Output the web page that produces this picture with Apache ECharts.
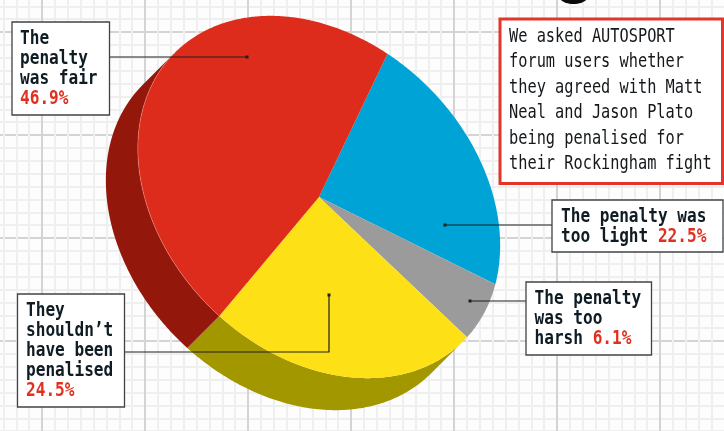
<!DOCTYPE html>
<html>
<head>
<meta charset="utf-8">
<style>html,body{margin:0;padding:0;background:#fff}#chart{width:724px;height:431px}</style>
<script src="https://cdn.jsdelivr.net/npm/echarts@6/dist/echarts.min.js"></script>
</head>
<body>
<div id="chart"></div>
<script>
// Poll results, clockwise from the red/blue boundary
const categories = [
  'The penalty was\ntoo light',
  'The penalty\nwas too\nharsh',
  'They\nshouldn\u2019t\nhave been\npenalised',
  'The\npenalty\nwas fair'
];
const shares = [22.5, 6.1, 24.5, 46.9];
const percentSeparators = [' ', ' ', '\n', '\n'];
const introLines = [
  'We asked AUTOSPORT',
  'forum users whether',
  'they agreed with Matt',
  'Neal and Jason Plato',
  'being penalised for',
  'their Rockingham fight'
];

const topColors = ['#00a3d5', '#9b9b9b', '#fde116', '#de2c1c'];
const sideColors = [null, null, '#a39700', '#93170a'];

// Tilted disc: ellipse semi-axes, axis rotation, centre and extrusion
const disc = { cx: 319, cy: 197, a: 204, b: 155, tilt: 45, startAngle: -105, dx: -32, dy: 32 };
const rad = Math.PI / 180;

function rimPoint(t, ox, oy) {
  const u = disc.a * Math.cos(t * rad), v = disc.b * Math.sin(t * rad);
  const c = Math.cos(disc.tilt * rad), s = Math.sin(disc.tilt * rad);
  return [disc.cx + u * c - v * s + (ox || 0), disc.cy + u * s + v * c + (oy || 0)];
}
function arc(from, to, ox, oy) {
  const pts = [], step = 0.5 * Math.sign(to - from);
  for (let t = from; (to - t) * step > 0; t += step) pts.push(rimPoint(t, ox, oy));
  pts.push(rimPoint(to, ox, oy));
  return pts;
}

function renderSlice(params, api) {
  const i = params.dataIndex;
  const before = shares.slice(0, i).reduce((p, q) => p + q, 0);
  const from = disc.startAngle + before * 3.6;
  const to = from + api.value(0) * 3.6;
  const children = [];
  const sideFrom = Math.max(from, 0), sideTo = Math.min(to, 180);
  if (sideColors[i] && sideTo > sideFrom) {
    children.push({
      type: 'polygon',
      shape: { points: arc(sideFrom, sideTo).concat(arc(sideTo, sideFrom, disc.dx, disc.dy)) },
      style: { fill: sideColors[i] }
    });
  }
  children.push({
    type: 'polygon',
    shape: { points: [[disc.cx, disc.cy]].concat(arc(from, to)) },
    style: { fill: topColors[i] }
  });
  if (i === 3) {
    children.push({
      type: 'polyline',
      shape: { points: arc(sideFrom, sideTo) },
      style: { stroke: 'rgba(255,190,170,0.35)', lineWidth: 1, fill: null }
    });
  }
  return { type: 'group', children };
}

// Callout boxes; lead is the leader polyline from box edge to its dot
const stretch = 1.25;
const calloutLayout = [
  { box: [552, 200, 171, 52], text: [561, 207], lead: [[552, 225], [445, 225]] },
  { box: [526, 282, 125.5, 73], text: [534.5, 289], lead: [[526, 301], [470, 301]] },
  { box: [17.5, 294, 107, 113], text: [26, 301], lead: [[125, 352], [329, 352], [329, 295]] },
  { box: [12, 22, 97.5, 93], text: [20, 29], lead: [[110, 57], [247, 57]] }
];

function calloutGraphics() {
  const out = [];
  categories.forEach((name, i) => {
    const L = calloutLayout[i];
    const body = name.split('\n');
    const pct = shares[i].toFixed(1) + '%';
    const rows = body.map(r => '{t|' + r + '}');
    const richText = percentSeparators[i] === ' '
      ? rows.slice(0, -1).concat(rows[rows.length - 1] + '{t| }{p|' + pct + '}')
      : rows.concat('{p|' + pct + '}');
    const end = L.lead[L.lead.length - 1];
    out.push({
      type: 'polyline', z: 20,
      shape: { points: L.lead },
      style: { stroke: '#1e1e1e', lineWidth: 1.2, fill: null }
    }, {
      type: 'rect', z: 20,
      shape: { x: end[0] - 1.5, y: end[1] - 1.5, width: 3, height: 3 },
      style: { fill: '#1e1e1e' }
    }, {
      type: 'rect', z: 21,
      shape: { x: L.box[0], y: L.box[1], width: L.box[2], height: L.box[3] },
      style: { fill: '#fff', stroke: '#404346', lineWidth: 1.3 }
    }, {
      type: 'text', z: 22,
      x: L.text[0], y: L.text[1], scaleY: stretch,
      style: {
        text: richText.join('\n'),
        rich: {
          t: { font: 'bold 16.1px "DejaVu Sans Mono"', fill: '#0f1c24', lineHeight: 20 / stretch },
          p: { font: 'bold 16.1px "DejaVu Sans Mono"', fill: '#e1301f', lineHeight: 20 / stretch }
        }
      }
    });
  });
  return out;
}

const chart = echarts.init(document.getElementById('chart'), null, { renderer: 'canvas' });
const paperAxis = (max) => ({
  type: 'value', min: 0, max, interval: 1, silent: true,
  axisLine: { show: false }, axisTick: { show: false }, axisLabel: { show: false },
  minorTick: { show: false, splitNumber: 8 },
  splitLine: { show: true, lineStyle: { color: '#d4d4d4', width: 2 } },
  minorSplitLine: { show: true, lineStyle: { color: '#efefef', width: 2 } }
});

chart.setOption({
  animation: false,
  backgroundColor: '#fdfdfd',
  // Graph-paper backdrop, one big square every 103px split into eighths
  grid: { left: -61, top: -71, width: 824, height: 515, outerBoundsMode: 'none' },
  xAxis: paperAxis(8),
  yAxis: paperAxis(5),
  series: [{
    type: 'custom',
    coordinateSystem: 'none',
    renderItem: renderSlice,
    data: shares.map(v => [v]),
    silent: true,
    z: 5
  }],
  graphic: [
    // Tail of the headline letter poking in at the top edge
    { type: 'ellipse', z: 20, shape: { cx: 573.5, cy: -3, rx: 14, ry: 7 }, style: { fill: '#0b0b0b' } },
    {
      type: 'rect', z: 21,
      shape: { x: 500, y: 19, width: 222.5, height: 164.5 },
      style: { fill: '#fff', stroke: '#e3352a', lineWidth: 3 }
    },
    {
      type: 'text', z: 22, x: 509, y: 24, scaleY: stretch,
      style: {
        text: introLines.join('\n'),
        font: '15.3px "DejaVu Sans Mono"',
        fill: '#14181b',
        lineHeight: 25.5 / stretch
      }
    },
    ...calloutGraphics()
  ]
});
</script>
</body>
</html>
